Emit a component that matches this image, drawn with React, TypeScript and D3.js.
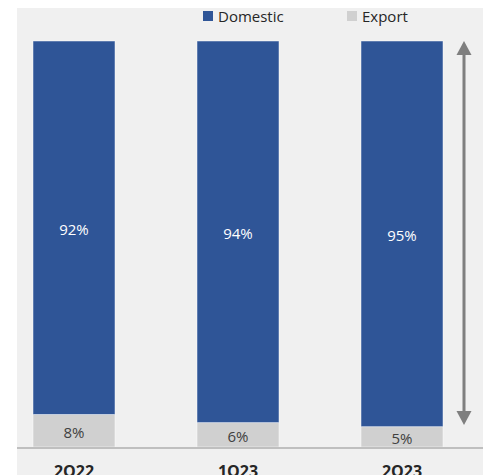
import React from "react";
import * as d3 from "d3";

const categories = ["2Q22", "1Q23", "2Q23"];
const domestic = [92, 94, 95];
const exportShare = [8, 6, 5];
const seriesNames = ["Domestic", "Export"];

const W = 483;
const H = 475;
const COLORS = { Domestic: "#2F5597", Export: "#D0D0D0" };
const FONT = "'Open Sans', 'Noto Sans', sans-serif";

export default function App() {
  const x = d3
    .scaleBand<string>()
    .domain(categories)
    .range([-8, 484])
    .paddingInner(0.5)
    .paddingOuter(0.25);
  const y = d3.scaleLinear().domain([0, 100]).range([447, 41]);

  const rows = categories.map((c, i) => ({
    cat: c,
    Export: exportShare[i],
    Domestic: domestic[i],
  }));
  const stack = d3.stack<any>().keys(["Export", "Domestic"]);
  const layers = stack(rows);

  const arrowX = 464;
  const aTop = 41;
  const aBot = 425;
  const head = 14;
  const hw = 7.5;

  return (
    <svg
      width={W}
      height={H}
      style={{ position: "absolute", left: 0, top: 0, display: "block" }}
    >
      <rect x={0} y={0} width={W} height={H} fill="#ffffff" />
      <rect x={17} y={8} width={W - 17} height={H - 8} fill="#F0F0F0" />

      {layers.map((layer) => (
        <g key={layer.key}>
          {layer.map((d, i) => {
            const key = layer.key as "Domestic" | "Export";
            const y0 = y(d[0]);
            const y1 = y(d[1]);
            const cx = (x(categories[i]) as number) + x.bandwidth() / 2;
            return (
              <g key={i}>
                <rect
                  x={x(categories[i])}
                  y={y1}
                  width={x.bandwidth()}
                  height={y0 - y1}
                  fill={COLORS[key]}
                  stroke="#ffffff"
                  strokeOpacity={0.6}
                  strokeWidth={0.8}
                />
                <text
                  x={cx}
                  y={(y0 + y1) / 2 + 1}
                  textAnchor="middle"
                  dominantBaseline="central"
                  fontFamily={FONT}
                  fontSize={15}
                  fill={key === "Domestic" ? "#FFFFFF" : "#404040"}
                >
                  {`${d[1] - d[0]}%`}
                </text>
              </g>
            );
          })}
        </g>
      ))}

      <line x1={17} x2={W} y1={448} y2={448} stroke="#BFBFBF" strokeWidth={2} />

      {categories.map((c) => (
        <text
          key={c}
          x={(x(c) as number) + x.bandwidth() / 2}
          y={477}
          textAnchor="middle"
          fontFamily={FONT}
          fontWeight="bold"
          fontSize={16}
          fill="#262626"
        >
          {c}
        </text>
      ))}

      {/* legend */}
      {seriesNames.map((s, i) => {
        const lx = [203, 347][i];
        return (
          <g key={s}>
            <rect x={lx} y={11} width={10} height={10} fill={COLORS[s as "Domestic" | "Export"]} />
            <text
              x={lx + 15}
              y={16}
              dominantBaseline="central"
              fontFamily={FONT}
              fontSize={15}
              fill="#262626"
            >
              {s}
            </text>
          </g>
        );
      })}

      {/* double arrow */}
      <line
        x1={arrowX}
        x2={arrowX}
        y1={aTop + head - 1}
        y2={aBot - head + 1}
        stroke="#7F7F7F"
        strokeWidth={3}
      />
      <path
        d={`M${arrowX},${aTop} L${arrowX + hw},${aTop + head} L${arrowX - hw},${aTop + head} Z`}
        fill="#7F7F7F"
      />
      <path
        d={`M${arrowX},${aBot} L${arrowX + hw},${aBot - head} L${arrowX - hw},${aBot - head} Z`}
        fill="#7F7F7F"
      />
    </svg>
  );
}
